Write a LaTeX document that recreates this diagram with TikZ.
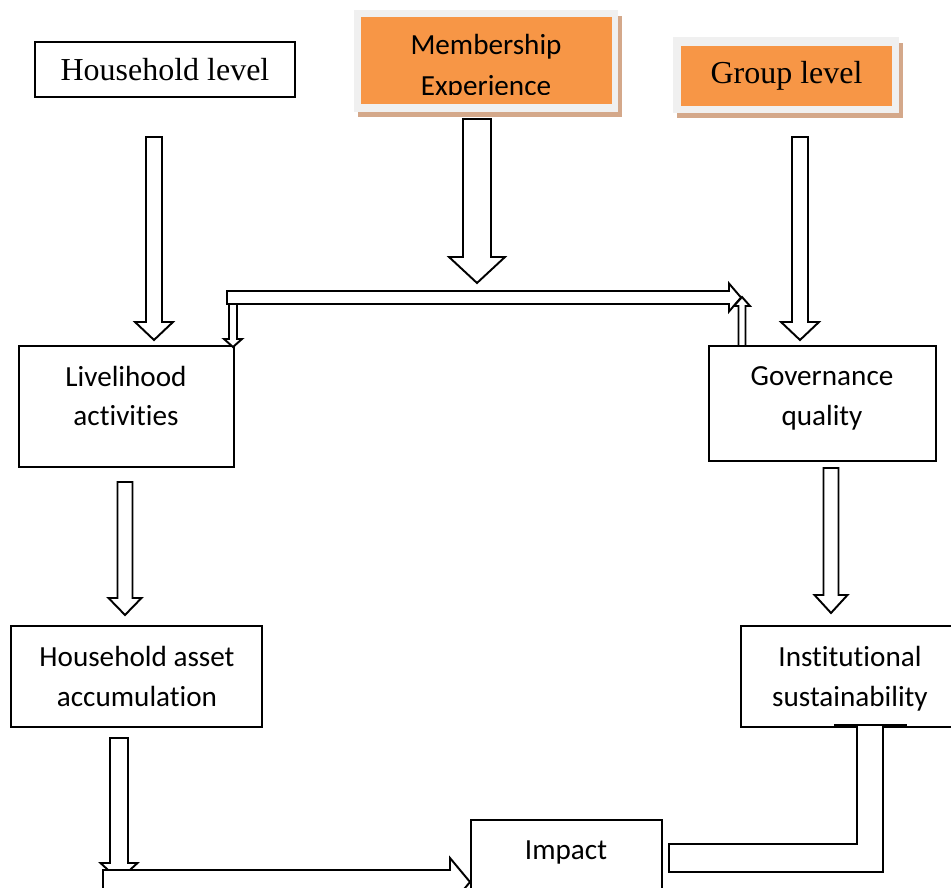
\documentclass[tikz,border=0pt]{standalone}
\usepackage{fontspec}
\setmainfont[Ligatures=CommonOff]{Carlito}
\newfontfamily\timesfont{Liberation Serif}
\usetikzlibrary{shadows}

\definecolor{boxorange}{HTML}{F79646}
\definecolor{framegray}{HTML}{F0F0F0}
\definecolor{shadowtan}{HTML}{D4A88A}

% hollow block arrows: centre, start, head base, tip, half shaft, half head
\newcommand{\vblock}[6]{%
  \draw[blockarrow] (#1-#5,#2) -- (#1+#5,#2) -- (#1+#5,#3) -- (#1+#6,#3)
    -- (#1,#4) -- (#1-#6,#3) -- (#1-#5,#3) -- cycle;}
\newcommand{\hblock}[6]{%
  \draw[blockarrow] (#2,#1-#5) -- (#2,#1+#5) -- (#3,#1+#5) -- (#3,#1+#6)
    -- (#4,#1) -- (#3,#1-#6) -- (#3,#1-#5) -- cycle;}

\begin{document}
\begin{tikzpicture}[x=0.02cm,y=-0.02cm,
    box/.style={draw,line width=1.1pt,fill=white,inner sep=0pt},
    boxtext/.style={align=center,font=\fontsize{16.6}{22.7}\selectfont},
    leveltext/.style={font=\timesfont\fontsize{18.2}{21}\selectfont},
    framebox/.style={fill=framegray,inner sep=0pt,
      drop shadow={shadow xshift=0.08cm,shadow yshift=-0.11cm,fill=shadowtan,opacity=1}},
    orangebox/.style={fill=boxorange,inner sep=0pt},
    blockarrow/.style={draw,line width=1.1pt,fill=white,line join=miter}]
\useasboundingbox (0,0) rectangle (951,888);

% top row
\node[box,leveltext,minimum width=5.2cm,minimum height=1.1cm] (hh) at (165,69.5) {Household level};

\node[framebox,minimum width=5.28cm,minimum height=2.04cm] (mem-frame) at (486,61) {};
\node[orangebox,minimum width=5.02cm,minimum height=1.74cm] (mem) at (486.5,60.5) {};
\begin{scope}
  \clip (361,17) rectangle (612,95);
  \node[boxtext,anchor=base] (mem-t1) at (486,55) {Membership};
  \node[boxtext,anchor=base] (mem-t2) at (486,96) {Experience};
\end{scope}

\node[framebox,minimum width=4.52cm,minimum height=1.52cm] (grp-frame) at (786,75) {};
\node[orangebox,leveltext,minimum width=4.22cm,minimum height=1.2cm] (grp) at (786.5,76) {Group level};

% middle boxes
\node[box,minimum width=4.3cm,minimum height=2.42cm] (live) at (126.5,406.5) {};
\node[boxtext] (live-t) at (126,396) {Livelihood\\activities};
\node[box,minimum width=4.54cm,minimum height=2.3cm] (gov) at (822.5,403.5) {};
\node[boxtext] (gov-t) at (822,398.5) {Governance\\quality};

\node[box,minimum width=5.02cm,minimum height=2.02cm] (asset) at (136.5,676.5) {};
\node[boxtext] (asset-t) at (137,676.5) {Household asset\\accumulation};
\node[box,minimum width=4.4cm,minimum height=2.02cm] (inst) at (851,676.5) {};
\node[boxtext] (inst-t) at (850,678.5) {Institutional\\sustainability};

\node[box,minimum width=3.82cm,minimum height=1.6cm] (impact) at (566.5,860) {};
\node[boxtext] (impact-t) at (566,852) {Impact};

% arrows down from the top row
\vblock{154}{137}{322}{340}{8}{19}
\vblock{477}{119}{257}{283}{14}{28}
\vblock{800}{137}{322}{340}{8}{19}

% link between the two sides
\hblock{297.5}{227}{729}{741}{6.5}{14}
\vblock{233}{304}{339}{347}{4}{9}
\vblock{742}{346}{306}{297}{3.5}{8}

% arrows down the sides
\vblock{125}{482}{598}{615}{7.5}{16.5}
\vblock{831}{468}{595}{613}{7.5}{16.5}
\vblock{119}{738}{863}{880}{9}{18.5}

% into impact
\hblock{882}{103}{450}{470}{12}{24}
\draw[blockarrow] (857,725) -- (857,844) -- (669,844) -- (669,872)
  -- (883,872) -- (883,725) -- cycle;
\draw[line width=1.1pt] (834,725) -- (907,725);
\end{tikzpicture}
\end{document}
